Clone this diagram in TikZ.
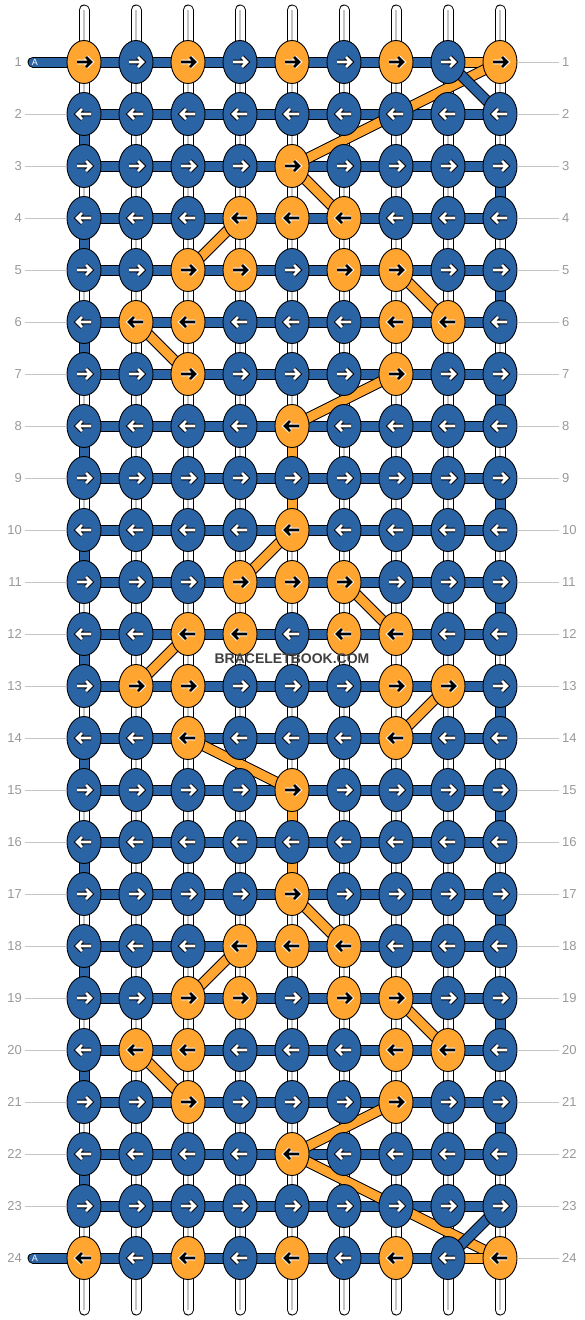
\documentclass[tikz,border=0pt]{standalone}
\usepackage{fontspec}
\setmainfont{Liberation Sans}
\usetikzlibrary{shapes.geometric}
\definecolor{knotblue}{HTML}{2A64A5}
\definecolor{knotorange}{HTML}{FFA530}
\definecolor{numgray}{HTML}{999999}
\definecolor{linegray}{HTML}{C4C4C4}
\pgfdeclarelayer{strips}
\pgfdeclarelayer{bands}
\pgfsetlayers{strips,bands,main}

\tikzset{
  b knot/.style={ellipse, draw=black, line width=0.9pt, fill=knotblue,
    minimum width=34pt, minimum height=43pt, inner sep=0pt},
  o knot/.style={b knot, fill=knotorange},
  arrowline/.style={line cap=butt, line join=miter},
  b halo/.style={black, line width=4.6pt},
  b core/.style={white, line width=2.6pt},
  o halo/.style={white, line width=4.6pt},
  o core/.style={black, line width=2.6pt},
  band/.style={draw=black, line width=1pt, double=#1, double distance=9pt},
  strip/.style={draw=black, line width=1pt, double=white, double distance=9pt, line cap=round},
  stripcore/.style={linegray, line width=1.2pt},
  rownum/.style={text=numgray, font=\fontsize{13}{13}\selectfont, inner sep=3pt},
  numline/.style={linegray, line width=1pt},
  weftlabel/.style={text=white, font=\fontsize{9}{9}\selectfont, inner sep=0pt},
  brand/.style={text=black!75, font=\bfseries\fontsize{14}{14}\selectfont, inner sep=0pt}
}

\begin{document}
\begin{tikzpicture}[x=1pt, y=-1pt]
  % Fix the page to the size of the chart
  \useasboundingbox (0,0) rectangle (584,1320);

  % Draw the knots row by row, with their arrows and row numbers
  \foreach \row/\pat in {
      1/{o,b,o,b,o,b,o,b,o}, 2/{b,b,b,b,b,b,b,b,b}, 3/{b,b,b,b,o,b,b,b,b},
      4/{b,b,b,o,o,o,b,b,b}, 5/{b,b,o,o,b,o,o,b,b}, 6/{b,o,o,b,b,b,o,o,b},
      7/{b,b,o,b,b,b,o,b,b}, 8/{b,b,b,b,o,b,b,b,b}, 9/{b,b,b,b,b,b,b,b,b},
      10/{b,b,b,b,o,b,b,b,b}, 11/{b,b,b,o,o,o,b,b,b}, 12/{b,b,o,o,b,o,o,b,b},
      13/{b,o,o,b,b,b,o,o,b}, 14/{b,b,o,b,b,b,o,b,b}, 15/{b,b,b,b,o,b,b,b,b},
      16/{b,b,b,b,b,b,b,b,b}, 17/{b,b,b,b,o,b,b,b,b}, 18/{b,b,b,o,o,o,b,b,b},
      19/{b,b,o,o,b,o,o,b,b}, 20/{b,o,o,b,b,b,o,o,b}, 21/{b,b,o,b,b,b,o,b,b},
      22/{b,b,b,b,o,b,b,b,b}, 23/{b,b,b,b,b,b,b,b,b}, 24/{o,b,o,b,o,b,o,b,o}} {
    \pgfmathtruncatemacro{\dir}{1-2*mod(\row+1,2)}
    \foreach \kind [count=\col] in \pat {
      \node[\kind\space knot] (k\row-\col) at ({84+52*(\col-1)},{62+52*(\row-1)}) {};
      \begin{scope}[shift={(k\row-\col.center)}, xscale=\dir]
        \draw[arrowline, \kind\space halo] (-7,0) -- (7,0) (2,-5) -- (7,0) -- (2,5);
        \draw[arrowline, \kind\space core] (-7,0) -- (7,0) (2,-5) -- (7,0) -- (2,5);
      \end{scope}
    }
    \node[rownum, anchor=east] (ln\row) at (25,{62+52*(\row-1)}) {\row};
    \node[rownum, anchor=west] (rn\row) at (559,{62+52*(\row-1)}) {\row};
    \draw[numline] (k\row-9.east) -- (rn\row.west);
    \ifnum\row>1 \ifnum\row<24
      \draw[numline] (ln\row.east) -- (k\row-1.west);
    \fi\fi
  }

  % Ends of the weft string
  \coordinate (a1) at (33,62);
  \coordinate (a24) at (33,1258);
  \node[weftlabel] (alabel1) at (35,62) {A};
  \node[weftlabel] (alabel24) at (35,1258) {A};

  % Draw the white vertical strings
  \begin{pgfonlayer}{strips}
    \foreach \col in {1,...,9} {
      \coordinate (top\col) at ({84+52*(\col-1)},10);
      \coordinate (bot\col) at ({84+52*(\col-1)},1310);
      \draw[strip] (top\col) -- (bot\col);
      \draw[stripcore] (top\col) -- (bot\col);
    }
  \end{pgfonlayer}

  \begin{pgfonlayer}{bands}
    % Draw the weft along each row
    \foreach \row in {2,...,23}
      \draw[band=knotblue] (k\row-1.center) -- (k\row-9.center);
    \draw[band=knotblue, line cap=round] (a1) -- (k1-8.center);
    \draw[band=knotblue, line cap=round] (a24) -- (k24-8.center);

    % Draw the orange string
    \foreach \src/\dst in {1-8/1-9, 1-9/2-7, 2-7/3-5, 3-5/4-6, 4-4/5-3, 5-7/6-8,
        6-2/7-3, 7-7/8-5, 8-5/9-5, 9-5/10-5, 10-5/11-4, 11-6/12-7, 12-3/13-2,
        13-8/14-7, 14-3/15-5, 15-5/16-5, 16-5/17-5, 17-5/18-6, 18-4/19-3,
        19-7/20-8, 20-2/21-3, 21-7/22-5, 22-5/23-7, 23-7/24-9, 24-8/24-9}
      \draw[band=knotorange] (k\src.center) -- (k\dst.center);

    % Draw the turns of the weft at both edges
    \foreach \row [evaluate=\row as \nxt using int(\row+1)] in {2,4,...,22}
      \draw[band=knotblue] (k\row-1.center) -- (k\nxt-1.center);
    \foreach \row [evaluate=\row as \nxt using int(\row+1)] in {3,5,...,21}
      \draw[band=knotblue] (k\row-9.center) -- (k\nxt-9.center);
    \draw[band=knotblue] (k1-8.center) -- (k2-9.center);
    \draw[band=knotblue] (k23-9.center) -- (k24-8.center);
  \end{pgfonlayer}

  % Site name
  \node[brand] (brand) at (292,659) {BRACELETBOOK.COM};
\end{tikzpicture}
\end{document}
